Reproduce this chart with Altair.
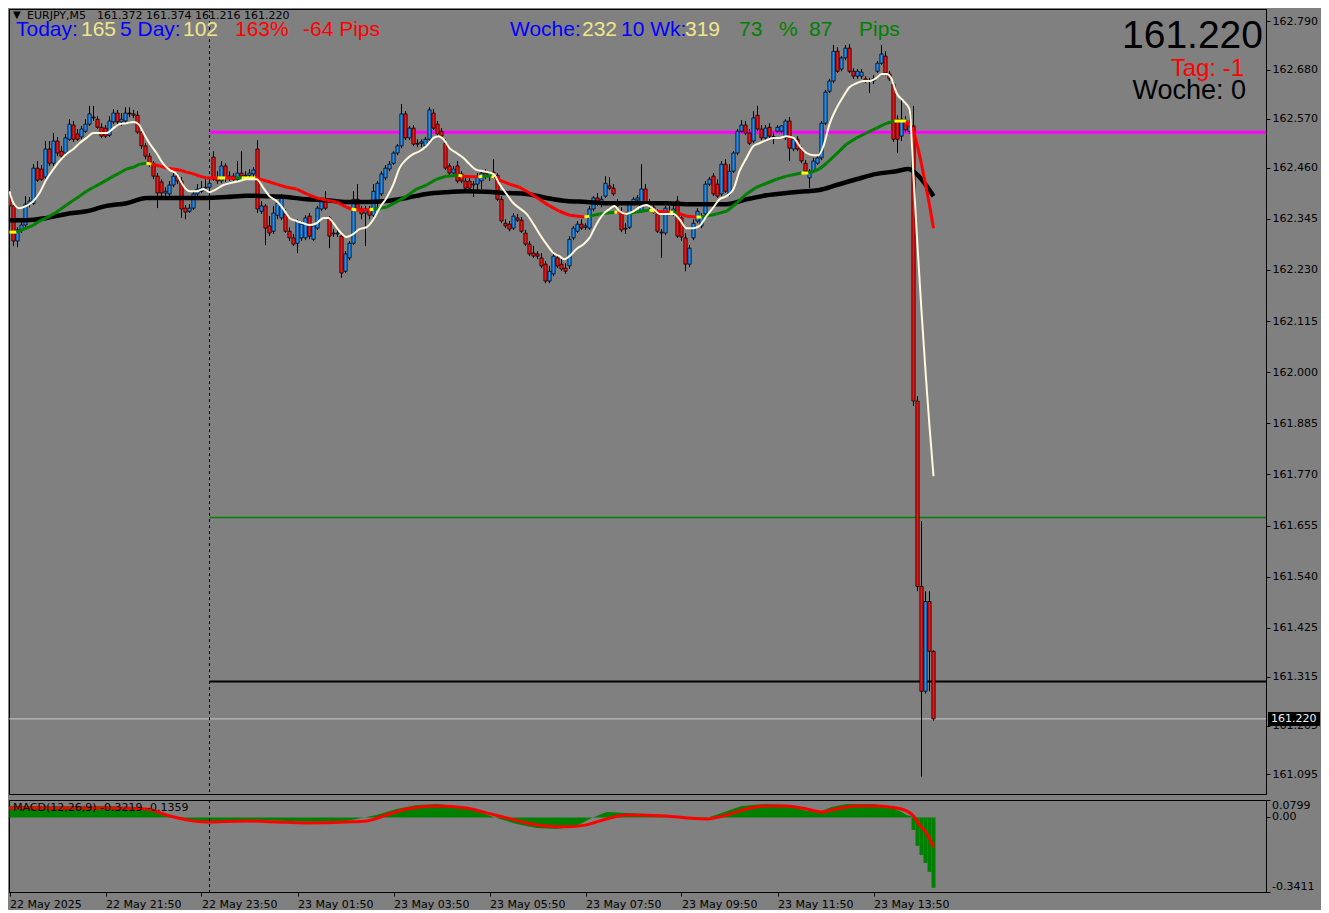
import altair as alt
import pandas as pd

# ---------------- data (EURJPY M5, bar index 0 = 22 May 2025 19:50) ----------------
OPEN = [162.401, 162.374, 162.295, 162.320, 162.331, 162.378, 162.380, 162.459, 162.457, 162.439,
        162.502, 162.470, 162.520, 162.497, 162.493, 162.524, 162.556, 162.536, 162.529, 162.542,
        162.558, 162.574, 162.569, 162.551, 162.549, 162.533, 162.563, 162.583, 162.563, 162.565,
        162.583, 162.581, 162.578, 162.540, 162.509, 162.486, 162.470, 162.441, 162.428, 162.403,
        162.401, 162.421, 162.441, 162.430, 162.369, 162.362, 162.369, 162.401, 162.407, 162.414,
        162.416, 162.484, 162.437, 162.430, 162.464, 162.437, 162.441, 162.434, 162.448, 162.441,
        162.443, 162.446, 162.502, 162.362, 162.374, 162.329, 162.317, 162.353, 162.347, 162.356,
        162.317, 162.302, 162.290, 162.302, 162.302, 162.351, 162.299, 162.324, 162.367, 162.389,
        162.347, 162.313, 162.311, 162.306, 162.227, 162.257, 162.290, 162.389, 162.367, 162.358,
        162.367, 162.353, 162.385, 162.401, 162.437, 162.457, 162.470, 162.493, 162.509, 162.581,
        162.527, 162.549, 162.515, 162.515, 162.509, 162.524, 162.583, 162.558, 162.542, 162.515,
        162.464, 162.448, 162.464, 162.446, 162.430, 162.430, 162.421, 162.423, 162.430, 162.448,
        162.441, 162.450, 162.443, 162.389, 162.335, 162.333, 162.324, 162.347, 162.342, 162.313,
        162.288, 162.268, 162.266, 162.257, 162.243, 162.205, 162.221, 162.257, 162.243, 162.234,
        162.239, 162.302, 162.317, 162.333, 162.326, 162.324, 162.367, 162.392, 162.378, 162.396,
        162.419, 162.414, 162.376, 162.356, 162.324, 162.326, 162.380, 162.387, 162.362, 162.412,
        162.380, 162.371, 162.356, 162.315, 162.313, 162.360, 162.362, 162.385, 162.347, 162.302,
        162.243, 162.302, 162.340, 162.329, 162.356, 162.423, 162.441, 162.423, 162.401, 162.468,
        162.401, 162.452, 162.493, 162.542, 162.556, 162.538, 162.520, 162.578, 162.547, 162.527,
        162.551, 162.529, 162.542, 162.542, 162.527, 162.565, 162.502, 162.524, 162.502, 162.470,
        162.437, 162.452, 162.470, 162.482, 162.560, 162.632, 162.655, 162.722, 162.682, 162.707,
        162.729, 162.677, 162.666, 162.666, 162.660, 162.655, 162.655, 162.677, 162.695, 162.711,
        162.671, 162.648, 162.569, 162.531, 162.567, 162.542, 162.554, 161.935, 161.518, 161.282,
        161.484, 161.372]
HIGH = [162.412, 162.378, 162.326, 162.340, 162.396, 162.394, 162.468, 162.475, 162.466, 162.520,
        162.520, 162.538, 162.529, 162.509, 162.536, 162.569, 162.565, 162.547, 162.554, 162.569,
        162.599, 162.599, 162.576, 162.560, 162.556, 162.576, 162.592, 162.590, 162.583, 162.596,
        162.596, 162.590, 162.587, 162.547, 162.515, 162.493, 162.475, 162.448, 162.434, 162.416,
        162.430, 162.448, 162.448, 162.439, 162.376, 162.378, 162.407, 162.423, 162.430, 162.434,
        162.439, 162.497, 162.452, 162.475, 162.470, 162.452, 162.448, 162.475, 162.497, 162.452,
        162.457, 162.461, 162.522, 162.385, 162.378, 162.351, 162.374, 162.385, 162.401, 162.367,
        162.326, 162.311, 162.344, 162.340, 162.353, 162.358, 162.335, 162.374, 162.389, 162.407,
        162.351, 162.322, 162.320, 162.313, 162.272, 162.295, 162.407, 162.423, 162.374, 162.374,
        162.374, 162.423, 162.430, 162.452, 162.466, 162.475, 162.497, 162.513, 162.603, 162.587,
        162.554, 162.556, 162.524, 162.524, 162.529, 162.596, 162.592, 162.565, 162.549, 162.524,
        162.470, 162.464, 162.475, 162.452, 162.437, 162.439, 162.430, 162.448, 162.452, 162.457,
        162.452, 162.479, 162.448, 162.396, 162.344, 162.340, 162.358, 162.356, 162.349, 162.320,
        162.295, 162.284, 162.272, 162.268, 162.250, 162.239, 162.272, 162.266, 162.254, 162.245,
        162.306, 162.329, 162.340, 162.344, 162.335, 162.374, 162.396, 162.403, 162.396, 162.441,
        162.439, 162.423, 162.389, 162.371, 162.335, 162.385, 162.394, 162.398, 162.468, 162.423,
        162.389, 162.380, 162.367, 162.322, 162.374, 162.374, 162.376, 162.396, 162.358, 162.313,
        162.286, 162.344, 162.369, 162.358, 162.430, 162.439, 162.448, 162.434, 162.475, 162.479,
        162.468, 162.497, 162.547, 162.567, 162.565, 162.547, 162.587, 162.599, 162.556, 162.556,
        162.560, 162.542, 162.556, 162.556, 162.569, 162.574, 162.529, 162.531, 162.509, 162.477,
        162.457, 162.482, 162.486, 162.565, 162.635, 162.660, 162.736, 162.731, 162.711, 162.736,
        162.738, 162.684, 162.682, 162.682, 162.666, 162.662, 162.668, 162.700, 162.736, 162.722,
        162.677, 162.655, 162.578, 162.614, 162.576, 162.587, 162.599, 161.946, 161.665, 161.507,
        161.507, 161.374]
LOW = [162.367, 162.284, 162.281, 162.313, 162.326, 162.371, 162.376, 162.428, 162.430, 162.434,
       162.464, 162.464, 162.486, 162.479, 162.488, 162.520, 162.518, 162.520, 162.524, 162.538,
       162.554, 162.565, 162.547, 162.527, 162.527, 162.529, 162.558, 162.558, 162.554, 162.560,
       162.574, 162.572, 162.536, 162.502, 162.479, 162.461, 162.434, 162.369, 162.396, 162.392,
       162.394, 162.416, 162.423, 162.347, 162.344, 162.358, 162.365, 162.396, 162.403, 162.407,
       162.371, 162.430, 162.423, 162.425, 162.428, 162.430, 162.430, 162.430, 162.434, 162.434,
       162.437, 162.439, 162.358, 162.356, 162.286, 162.306, 162.311, 162.344, 162.342, 162.313,
       162.295, 162.284, 162.268, 162.295, 162.297, 162.299, 162.295, 162.320, 162.362, 162.365,
       162.279, 162.304, 162.304, 162.212, 162.223, 162.252, 162.286, 162.362, 162.344, 162.284,
       162.344, 162.349, 162.369, 162.396, 162.432, 162.452, 162.466, 162.488, 162.504, 162.522,
       162.522, 162.509, 162.506, 162.506, 162.504, 162.520, 162.545, 162.531, 162.527, 162.455,
       162.443, 162.443, 162.425, 162.425, 162.407, 162.412, 162.394, 162.407, 162.412, 162.434,
       162.430, 162.437, 162.385, 162.335, 162.324, 162.317, 162.320, 162.338, 162.313, 162.284,
       162.261, 162.257, 162.254, 162.234, 162.200, 162.200, 162.216, 162.234, 162.227, 162.221,
       162.232, 162.297, 162.313, 162.320, 162.320, 162.320, 162.362, 162.374, 162.371, 162.392,
       162.410, 162.396, 162.371, 162.315, 162.311, 162.322, 162.376, 162.383, 162.358, 162.376,
       162.367, 162.356, 162.313, 162.257, 162.308, 162.353, 162.351, 162.302, 162.295, 162.227,
       162.236, 162.297, 162.335, 162.324, 162.351, 162.419, 162.396, 162.392, 162.396, 162.403,
       162.396, 162.448, 162.488, 162.538, 162.533, 162.511, 162.515, 162.542, 162.522, 162.522,
       162.527, 162.513, 162.538, 162.538, 162.522, 162.475, 162.497, 162.497, 162.470, 162.448,
       162.414, 162.448, 162.466, 162.477, 162.556, 162.628, 162.650, 162.673, 162.677, 162.702,
       162.673, 162.660, 162.660, 162.660, 162.650, 162.628, 162.648, 162.673, 162.691, 162.668,
       162.655, 162.518, 162.493, 162.520, 162.538, 162.536, 161.924, 161.507, 161.090, 161.277,
       161.282, 161.216]
CLOSE = [162.374, 162.295, 162.320, 162.331, 162.378, 162.385, 162.459, 162.432, 162.434, 162.502,
         162.470, 162.520, 162.493, 162.486, 162.527, 162.558, 162.524, 162.524, 162.547, 162.558,
         162.581, 162.572, 162.551, 162.531, 162.531, 162.565, 162.583, 162.563, 162.569, 162.583,
         162.581, 162.578, 162.540, 162.509, 162.486, 162.470, 162.441, 162.403, 162.403, 162.407,
         162.421, 162.441, 162.430, 162.367, 162.360, 162.369, 162.401, 162.412, 162.414, 162.416,
         162.425, 162.434, 162.430, 162.464, 162.437, 162.441, 162.434, 162.448, 162.441, 162.443,
         162.448, 162.455, 162.367, 162.374, 162.324, 162.313, 162.358, 162.380, 162.396, 162.317,
         162.302, 162.288, 162.340, 162.333, 162.347, 162.306, 162.329, 162.369, 162.385, 162.369,
         162.306, 162.311, 162.313, 162.223, 162.266, 162.290, 162.389, 162.367, 162.356, 162.367,
         162.353, 162.407, 162.425, 162.446, 162.459, 162.468, 162.493, 162.509, 162.581, 162.527,
         162.549, 162.513, 162.513, 162.518, 162.524, 162.590, 162.549, 162.536, 162.531, 162.459,
         162.448, 162.457, 162.430, 162.430, 162.414, 162.414, 162.423, 162.441, 162.448, 162.441,
         162.448, 162.448, 162.389, 162.340, 162.329, 162.322, 162.351, 162.342, 162.317, 162.288,
         162.266, 162.261, 162.261, 162.239, 162.205, 162.227, 162.261, 162.239, 162.232, 162.227,
         162.299, 162.324, 162.333, 162.324, 162.329, 162.367, 162.392, 162.378, 162.389, 162.425,
         162.414, 162.401, 162.374, 162.320, 162.322, 162.380, 162.389, 162.392, 162.412, 162.380,
         162.376, 162.360, 162.317, 162.313, 162.369, 162.358, 162.367, 162.306, 162.304, 162.243,
         162.279, 162.335, 162.362, 162.351, 162.423, 162.434, 162.401, 162.396, 162.468, 162.407,
         162.452, 162.493, 162.542, 162.556, 162.538, 162.515, 162.572, 162.547, 162.527, 162.549,
         162.531, 162.530, 162.551, 162.554, 162.565, 162.504, 162.524, 162.502, 162.475, 162.452,
         162.452, 162.475, 162.482, 162.560, 162.630, 162.655, 162.722, 162.677, 162.707, 162.729,
         162.677, 162.666, 162.677, 162.675, 162.655, 162.656, 162.660, 162.695, 162.716, 162.673,
         162.660, 162.524, 162.524, 162.569, 162.545, 162.554, 161.935, 161.518, 161.282, 161.484,
         161.372, 161.220]

# fast moving average (cream line): (bar index, price)
FAST_MA = [(0, 162.407), (1, 162.380), (2.5, 162.369), (4.25, 162.374), (6, 162.385), (7.5, 162.403),
           (9.25, 162.434), (11, 162.457), (12.5, 162.475), (14.25, 162.491), (16, 162.502), (17.5, 162.515),
           (19.25, 162.527), (21, 162.538), (22.5, 162.538), (24.25, 162.538), (26, 162.549), (27.5, 162.558),
           (29.25, 162.560), (31, 162.563), (32.25, 162.558), (33.5, 162.538), (35, 162.515), (36.75, 162.493),
           (38.5, 162.468), (40, 162.455), (41.75, 162.446), (43.5, 162.419), (45, 162.407), (46.75, 162.407),
           (48.5, 162.412), (50, 162.405), (51.75, 162.412), (53.5, 162.421), (55, 162.425), (57.5, 162.430),
           (59.25, 162.434), (61.75, 162.434), (63.5, 162.414), (65, 162.396), (66.75, 162.385), (68.5, 162.367),
           (70, 162.347), (71.75, 162.340), (73.5, 162.335), (75, 162.331), (76.75, 162.335), (78.5, 162.347),
           (79.75, 162.347), (81, 162.335), (82.5, 162.317), (84.25, 162.304), (86, 162.311), (87.5, 162.322),
           (89.25, 162.326), (91, 162.344), (92.5, 162.369), (94.25, 162.392), (96, 162.423), (97.5, 162.459),
           (99.25, 162.479), (101, 162.491), (102.5, 162.497), (104.25, 162.509), (106, 162.527), (107.25, 162.531),
           (108.5, 162.524), (110, 162.504), (111.75, 162.493), (113.5, 162.482), (115, 162.468), (116.75, 162.455),
           (118.5, 162.452), (121, 162.446), (122.5, 162.423), (124.25, 162.401), (126, 162.380), (127.5, 162.369),
           (129.25, 162.356), (131, 162.333), (132.5, 162.311), (134.25, 162.288), (136, 162.268), (137.5, 162.261),
           (138.75, 162.254), (140, 162.261), (141.75, 162.277), (143.5, 162.288), (145, 162.302), (146.75, 162.333),
           (148.5, 162.356), (150, 162.367), (151.25, 162.374), (152.5, 162.362), (154.25, 162.356), (156, 162.362),
           (157.5, 162.371), (159.25, 162.376), (161, 162.367), (162.5, 162.356), (164.25, 162.356), (166, 162.356),
           (167.5, 162.344), (169.25, 162.324), (171, 162.324), (172.5, 162.329), (174.25, 162.351), (176, 162.371),
           (177.5, 162.389), (179.25, 162.396), (181, 162.412), (182.5, 162.452), (184.25, 162.482), (186, 162.509),
           (187.5, 162.515), (189.25, 162.522), (191, 162.527), (192.5, 162.527), (194.25, 162.531), (196, 162.527),
           (197.5, 162.509), (199.25, 162.493), (201, 162.488), (202.25, 162.488), (203.5, 162.509), (205, 162.558),
           (206.75, 162.594), (208.5, 162.621), (210, 162.641), (211.75, 162.650), (213.5, 162.655), (215, 162.655),
           (216.75, 162.662), (218, 162.671), (219.25, 162.671), (220.5, 162.660), (221.75, 162.628), (223.5, 162.610),
           (225, 162.592), (226, 162.441), (227, 162.284), (228, 162.137), (229, 162.002), (230, 161.878),
           (231, 161.766)]

# trend moving average, coloured by slope: g = rising, r = falling, y = turning
TREND_MA = [(0, 162.315, "y"), (1.75, 162.315, "g"), (4.25, 162.324, "g"), (6, 162.331, "g"), (7.5, 162.340, "g"),
            (9.25, 162.347, "g"), (11, 162.356, "g"), (12.5, 162.365, "g"), (14.25, 162.376, "g"), (16, 162.387, "g"),
            (17.5, 162.396, "g"), (19.25, 162.407, "g"), (21, 162.416, "g"), (22.5, 162.423, "g"), (24.25, 162.432, "g"),
            (26, 162.441, "g"), (27.5, 162.448, "g"), (29.25, 162.457, "g"), (31, 162.461, "g"), (32.5, 162.468, "g"),
            (34.25, 162.470, "y"), (35.5, 162.468, "r"), (37.5, 162.464, "r"), (39.25, 162.459, "r"), (41, 162.457, "r"),
            (42.5, 162.455, "r"), (44.25, 162.450, "r"), (46, 162.446, "r"), (47.5, 162.441, "r"), (49.25, 162.437, "r"),
            (52, 162.437, "y"), (54, 162.437, "r"), (56.5, 162.437, "g"), (58, 162.437, "y"), (61.5, 162.437, "r"),
            (64.25, 162.430, "r"), (66.75, 162.423, "r"), (69.25, 162.416, "r"), (71.75, 162.412, "r"), (74.25, 162.401, "r"),
            (76.75, 162.392, "r"), (79.25, 162.387, "r"), (81.75, 162.383, "r"), (84.25, 162.371, "r"), (85.5, 162.367, "y"),
            (86.75, 162.365, "r"), (90, 162.365, "y"), (91, 162.367, "g"), (94.25, 162.371, "g"), (96.75, 162.383, "g"),
            (99.25, 162.396, "g"), (101.75, 162.412, "g"), (104.25, 162.421, "g"), (106.75, 162.434, "g"), (109.25, 162.441, "g"),
            (112.25, 162.443, "y"), (113.25, 162.441, "r"), (117.25, 162.439, "y"), (118.25, 162.441, "g"), (120.5, 162.441, "y"),
            (121.25, 162.439, "r"), (122.5, 162.432, "r"), (125, 162.423, "r"), (127.5, 162.416, "r"), (130, 162.403, "r"),
            (132.5, 162.389, "r"), (135, 162.374, "r"), (137.5, 162.362, "r"), (140, 162.353, "r"), (143.75, 162.349, "y"),
            (145, 162.351, "g"), (147.5, 162.356, "g"), (151.25, 162.360, "y"), (152, 162.360, "r"), (154.25, 162.356, "g"),
            (156.75, 162.360, "g"), (160, 162.365, "y"), (161.25, 162.362, "r"), (165, 162.360, "y"), (166, 162.360, "g"),
            (167, 162.358, "r"), (169.25, 162.351, "r"), (171.75, 162.349, "y"), (173, 162.349, "g"), (174.25, 162.351, "g"),
            (176.75, 162.356, "g"), (179.25, 162.362, "g"), (181.75, 162.380, "g"), (184.25, 162.401, "g"), (186.75, 162.416, "g"),
            (189.25, 162.425, "g"), (191.75, 162.434, "g"), (194.25, 162.441, "g"), (198, 162.448, "y"), (199.75, 162.448, "g"),
            (201, 162.452, "g"), (202.5, 162.457, "g"), (204.25, 162.470, "g"), (206.75, 162.491, "g"), (209.25, 162.513, "g"),
            (211.75, 162.527, "g"), (214.25, 162.538, "g"), (216.75, 162.549, "g"), (219.25, 162.560, "g"), (221.25, 162.565, "y"),
            (224.25, 162.565, "r"), (226, 162.542, "r"), (227, 162.509, "r"), (228, 162.468, "r"), (229, 162.423, "r"),
            (230, 162.376, "r"), (231, 162.324, "r")]

# slow moving average (black line)
SLOW_MA = [(0, 162.342), (4.25, 162.342), (9.25, 162.347), (14.25, 162.356), (19.25, 162.362), (24.25, 162.374),
           (29.25, 162.380), (34.25, 162.392), (39.25, 162.392), (44.25, 162.392), (49.25, 162.392), (54.25, 162.394),
           (59.25, 162.397), (64.25, 162.396), (69.25, 162.394), (74.25, 162.389), (79.25, 162.387), (84.25, 162.383),
           (89.25, 162.383), (94.25, 162.385), (99.25, 162.392), (104.25, 162.401), (109.25, 162.405), (114.25, 162.407),
           (119.25, 162.406), (124.25, 162.403), (129.25, 162.401), (134.25, 162.392), (139.25, 162.385), (144.25, 162.383),
           (149.25, 162.380), (154.25, 162.380), (159.25, 162.380), (164.25, 162.380), (169.25, 162.378), (174.25, 162.378),
           (179.25, 162.378), (184.25, 162.389), (189.25, 162.398), (194.25, 162.403), (199.25, 162.407), (202.5, 162.410),
           (206.75, 162.421), (211.75, 162.434), (216.75, 162.446), (221.75, 162.452), (224.75, 162.457), (226.75, 162.446),
           (229.25, 162.419), (231, 162.396)]

# MACD(12,26,9): main histogram (smooth part) and the last bars, signal line
MACD_I = [0, 11.75, 24.25, 31.75, 35.5, 39.25, 43, 46.75, 54.25, 61.75, 69.25, 76.75, 84.25, 91.75, 96.75,
          101.75, 106.75, 111.75, 116.75, 121.75, 126.75, 131.75, 136.75, 141.75, 145.5, 149.25, 154.25, 159.25,
          164.25, 169.25, 174.25, 178, 183, 189.25, 194.25, 199.25, 203, 205.5, 209.25, 216, 220, 222.5, 224.25, 225.5]
MACD_V = [0.053, 0.053, 0.053, 0.048, 0.030, 0.007, -0.011, -0.020, -0.020, -0.011, -0.016, -0.020, -0.016, 0.011,
          0.039, 0.057, 0.062, 0.053, 0.030, -0.002, -0.030, -0.048, -0.053, -0.039, -0.002, 0.025, 0.020, 0.016,
          0.007, -0.007, -0.002, 0.020, 0.053, 0.062, 0.057, 0.030, 0.030, 0.048, 0.062, 0.062, 0.048, 0.030, 0.011, 0.005]
MACD_END_I = [226, 227, 228, 229, 230, 231]
MACD_END_V = [-0.057, -0.130, -0.172, -0.208, -0.249, -0.3219]
SIG_I = [0, 24.25, 34.25, 39.25, 44.25, 49.25, 59.25, 66.75, 74.25, 84.25, 89.25, 94.25, 99.25, 106.75, 114.25,
         119.25, 124.25, 129.25, 134.25, 139.25, 144.25, 149.25, 154.25, 164.25, 169.25, 174.25, 179.25, 184.25,
         189.25, 194.25, 199.25, 203, 206.75, 211.75, 216.75, 220, 224.25, 226, 227.5, 229.25, 231]
SIG_V = [0.043, 0.043, 0.039, 0.011, -0.011, -0.021, -0.016, -0.021, -0.025, -0.021, -0.016, 0.011, 0.039, 0.053,
         0.043, 0.021, -0.002, -0.025, -0.039, -0.043, -0.034, -0.007, 0.011, 0.007, -0.002, -0.007, 0.011, 0.039,
         0.053, 0.053, 0.039, 0.025, 0.039, 0.053, 0.053, 0.048, 0.030, 0.007, -0.034, -0.071, -0.1359]

PRICE_TICKS = [162.790, 162.680, 162.570, 162.460, 162.345, 162.230, 162.115, 162.000, 161.885, 161.770,
               161.655, 161.540, 161.425, 161.315, 161.205, 161.095]
MACD_TICKS = [0.0799, 0.0, -0.3411]
TIME_TICKS = [0, 24, 48, 72, 96, 120, 144, 168, 192, 216]
TIME_LABELS = ["22 May 2025", "22 May 21:50", "22 May 23:50", "23 May 01:50", "23 May 03:50",
               "23 May 05:50", "23 May 07:50", "23 May 09:50", "23 May 11:50", "23 May 13:50"]
DAY_START = 50
LEVEL_MAGENTA = 162.540
LEVEL_GREEN = 161.673
LEVEL_BLACK = 161.304
LAST_PRICE = 161.220

# ---------------- layout ----------------
W, HM, HD = 1257, 785, 92
XD = [-0.125, 314.125]
YD = [161.051, 162.817]
MD = [-0.3411, 0.0799]
FONT = "DejaVu Sans"
ARIAL = "Liberation Sans"
BLUE, RED, GREEN, KHAKI = "#0000FF", "#FF0000", "#008000", "#F0E68C"

xs = alt.Scale(domain=XD, nice=False, zero=False)
ys = alt.Scale(domain=YD, nice=False, zero=False)
ms = alt.Scale(domain=MD, nice=False, zero=False)

price_axis = alt.Axis(orient="right", values=PRICE_TICKS, format=".3f", title=None, grid=False,
                      tickSize=4, tickColor="black", domainColor="black", labelColor="black",
                      labelFont=FONT, labelFontSize=11, labelPadding=2, labelOverlap=False, labelFlush=False)
time_expr = "[" + ",".join("'" + s + "'" for s in TIME_LABELS) + "][round(datum.value / 24)]"
time_axis = alt.Axis(values=TIME_TICKS, labelExpr=time_expr, title=None, grid=False, tickSize=4,
                     labelAlign="left", labelPadding=2, labelFont=FONT, labelFontSize=11,
                     labelColor="black", tickColor="black", domainColor="black",
                     labelFlush=False, labelOverlap=False)
macd_axis = alt.Axis(orient="right", values=MACD_TICKS, labels=False, title=None, grid=False,
                     tickSize=4, tickColor="black", domainColor="black")


def xq(f):
    return alt.X(f, type="quantitative", scale=xs, axis=None)


def xt(f):
    return alt.X(f, type="quantitative", scale=xs, axis=time_axis)


def yq(f):
    return alt.Y(f, type="quantitative", scale=ys, axis=price_axis)


def mq(f):
    return alt.Y(f, type="quantitative", scale=ms, axis=macd_axis)


def txt(s, x, y, size, color, font=ARIAL, align="left", baseline="alphabetic"):
    return alt.Chart(pd.DataFrame({"t": [s]})).mark_text(
        align=align, baseline=baseline, font=font, fontSize=size, color=color, clip=True
    ).encode(x=alt.value(x), y=alt.value(y), text="t:N")


candles = pd.DataFrame({"i": list(range(len(CLOSE))), "o": OPEN, "h": HIGH, "l": LOW, "c": CLOSE})
fast = pd.DataFrame(FAST_MA, columns=["i", "v"])
slow = pd.DataFrame(SLOW_MA, columns=["i", "v"])
trend = pd.DataFrame({
    "i": [p[0] for p in TREND_MA[:-1]], "i2": [p[0] for p in TREND_MA[1:]],
    "v": [p[1] for p in TREND_MA[:-1]], "v2": [p[1] for p in TREND_MA[1:]],
    "k": [p[2] for p in TREND_MA[:-1]],
})


def level(p, color, width, start):
    d = pd.DataFrame({"x0": [start], "x1": [XD[1]], "p": [p]})
    return alt.Chart(d).mark_rule(color=color, strokeWidth=width, clip=True).encode(
        x=xq("x0"), x2="x1:Q", y=yq("p"))


wicks = alt.Chart(candles).mark_rule(color="black", strokeWidth=1, clip=True).encode(
    x=xq("i"), y=yq("l"), y2="h:Q")
bodies = alt.Chart(candles).transform_calculate(
    x1="datum.i - 0.4", x2="datum.i + 0.4"
).mark_rect(stroke="black", strokeWidth=0.8, clip=True).encode(
    x=xq("x1"), x2="x2:Q", y=yq("o"), y2="c:Q",
    color=alt.condition("datum.c >= datum.o", alt.value("#1E90FF"), alt.value("#FF1010")))

slow_line = alt.Chart(slow).mark_line(color="black", strokeWidth=4.5, interpolate="monotone", clip=True).encode(
    x=xq("i"), y=yq("v"))
trend_line = alt.Chart(trend).mark_rule(strokeWidth=3, clip=True).encode(
    x=xq("i"), x2="i2:Q", y=yq("v"), y2="v2:Q",
    color=alt.Color("k:N", scale=alt.Scale(domain=["g", "r", "y"], range=[GREEN, RED, "#FFFF00"]), legend=None))
fast_line = alt.Chart(fast).mark_line(color="#FFF8DC", strokeWidth=2, interpolate="monotone", clip=True).encode(
    x=xq("i"), y=yq("v"))

last_line = alt.Chart(pd.DataFrame({"p": [LAST_PRICE]})).mark_rule(
    color="#C8C8C8", strokeWidth=1, clip=True).encode(y=yq("p"))
main_vline = alt.Chart(pd.DataFrame({"x": [DAY_START]})).mark_rule(
    color="black", strokeWidth=1, strokeDash=[3, 3], clip=True).encode(x=xq("x"))
tag_box = alt.Chart(pd.DataFrame({"p": [LAST_PRICE]})).mark_tick(
    orient="horizontal", size=52, thickness=14, color="black", opacity=1).encode(x=alt.value(W + 28), y=yq("p"))
tag_txt = alt.Chart(pd.DataFrame({"p": [LAST_PRICE], "t": ["161.220"]})).mark_text(
    align="left", baseline="middle", font=FONT, fontSize=11, color="#F0F0F0").encode(
    x=alt.value(W + 5), y=yq("p"), text="t:N")

texts = [
    txt("▼", 4, 1, 10, "black", font=FONT, baseline="top"),
    txt("EURJPY,M5", 18, 1, 11, "black", font=FONT, baseline="top"),
    txt("161.372 161.374 161.216 161.220", 88, 1, 11, "black", font=FONT, baseline="top"),
    txt("Today:", 7, 27, 21, BLUE), txt("165", 72, 27, 21, KHAKI),
    txt("5 Day:", 111, 27, 21, BLUE), txt("102", 174, 27, 21, KHAKI),
    txt("163%", 226, 27, 21, RED), txt("-64 Pips", 294, 27, 21, RED),
    txt("Woche:", 501, 27, 21, BLUE), txt("232", 573, 27, 21, KHAKI),
    txt("10 Wk:", 612, 27, 21, BLUE), txt("319", 676, 27, 21, KHAKI),
    txt("73", 730, 27, 21, GREEN), txt("%", 770, 27, 21, GREEN),
    txt("87", 800, 27, 21, GREEN), txt("Pips", 850, 27, 21, GREEN),
    txt("161.220", 1254, 39, 39, "black", align="right"),
    txt("Tag: -1", 1235, 67, 24, RED, align="right"),
    txt("Woche:  0", 1237, 90, 27, "black", align="right"),
]

main = alt.layer(
    level(LEVEL_MAGENTA, "#FF00FF", 3, DAY_START),
    level(LEVEL_GREEN, GREEN, 1.5, DAY_START),
    level(LEVEL_BLACK, "black", 2, DAY_START),
    last_line, main_vline, wicks, bodies, slow_line, trend_line, fast_line,
    *texts, tag_box, tag_txt,
).properties(width=W, height=HM)

# ---------------- MACD panel ----------------
hist = pd.DataFrame({"i": MACD_I, "v": MACD_V})
hist_end = pd.DataFrame({"i": MACD_END_I, "v": MACD_END_V})
sig = pd.DataFrame({"i": SIG_I, "v": SIG_V})

area = alt.Chart(hist).mark_area(color=GREEN, interpolate="linear", clip=True).encode(
    x=xt("i"), y=mq("v"), y2=alt.datum(0))
end_bars = alt.Chart(hist_end).transform_calculate(
    x1="datum.i - 0.5", x2="datum.i + 0.5"
).mark_rect(color=GREEN, clip=True).encode(x=xt("x1"), x2="x2:Q", y=mq("v"), y2=alt.datum(0))
sig_line = alt.Chart(sig).mark_line(color=RED, strokeWidth=3, interpolate="monotone", clip=True).encode(
    x=xt("i"), y=mq("v"))
macd_vline = alt.Chart(pd.DataFrame({"x": [DAY_START]})).mark_rule(
    color="black", strokeWidth=1, strokeDash=[3, 3], clip=True).encode(x=xt("x"))


def mlabel(v, s, baseline):
    return alt.Chart(pd.DataFrame({"v": [v], "t": [s]})).mark_text(
        align="left", baseline=baseline, font=FONT, fontSize=11, color="black").encode(
        x=alt.value(W + 6), y=mq("v"), text="t:N")


macd = alt.layer(
    area, end_bars, sig_line, macd_vline,
    txt("MACD(12,26,9) -0.3219 -0.1359", 4, 8, 11, "black", font=FONT, baseline="middle"),
    mlabel(0.0799, "0.0799", "top"), mlabel(0.0, "0.00", "middle"), mlabel(-0.3411, "-0.3411", "bottom"),
).properties(width=W, height=HD)

chart = alt.vconcat(main, macd, spacing=4).properties(
    padding=0, background="#808080"
).configure_view(stroke="black", strokeWidth=1)

chart.save("out.html", embed_options={"renderer": "svg", "actions": False})
